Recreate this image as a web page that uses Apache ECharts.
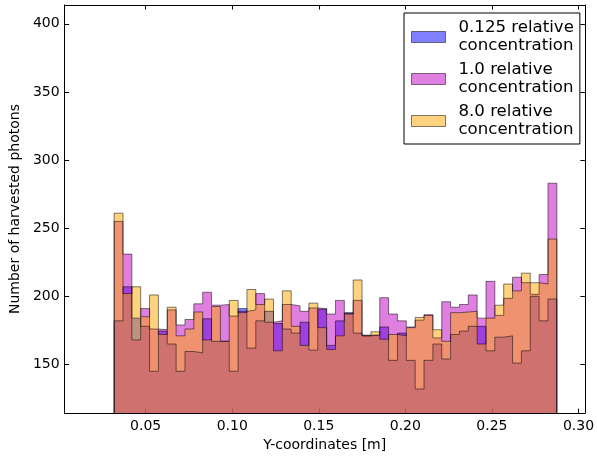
<!DOCTYPE html>
<html>
<head>
<meta charset="utf-8">
<script src="https://cdn.jsdelivr.net/npm/echarts@6/dist/echarts.min.js"></script>
<style>
  html, body { margin: 0; padding: 0; background: #fff; }
  #chart { width: 597px; height: 457px; }
</style>
</head>
<body>
<div id="chart"></div>
<script>
// Histogram bins along the Y coordinate (metres): 50 equal bins
const binStart = 0.0318;
const binWidth = 0.005114;

// Harvested photon counts per bin, one array per relative concentration
const counts0125 = [182, 207, 184, 178, 145, 174.5, 165, 145, 159.5, 158.5,
                    183.5, 167, 167, 145, 191, 162, 182, 189, 180, 176,
                    173, 181, 160.5, 190.5, 164, 182, 188, 173, 171, 171.5,
                    177.5, 153, 173, 153, 132, 153, 165, 154, 172, 174.5,
                    178, 178, 160, 170, 171, 151, 160, 200, 182, 198];
const counts10   = [255, 231, 168, 191, 176, 175.5, 190, 179, 183, 194.5,
                    203, 193.5, 194, 185.5, 189, 190, 202, 181, 182, 194,
                    193, 189, 191.5, 191, 187, 197, 187.5, 197, 171.5, 171.5,
                    199, 187, 182, 177.5, 182.5, 186.5, 169.5, 196, 192, 194,
                    201, 184, 211, 186, 198.5, 214, 210, 201.5, 216, 283];
const counts80   = [261, 202, 207, 185, 201, 172, 192, 171, 176, 188.5,
                    168, 192.5, 167, 197, 188, 205, 194, 198, 160, 204,
                    178, 164, 195, 177, 161, 171, 187, 212, 171, 174,
                    168.5, 172, 171, 177, 184.5, 186, 175.5, 167, 188, 188.5,
                    189, 165, 184, 193.5, 209, 204, 217, 210, 209, 242];

const seriesNames = ['0.125 relative concentration', '1.0 relative concentration', '8.0 relative concentration'];
const xTicks = [0.05, 0.10, 0.15, 0.20, 0.25, 0.30];
const yTicks = [150, 200, 250, 300, 350, 400];
const xRange = [0.0032, 0.3037];
const yRange = [114.3, 413.8];

const FONT = 'DejaVu Sans';
const EDGE = 'rgba(0,0,0,0.5)';

// Closed step outline of a filled histogram (drops to zero at both ends)
function stepOutline(counts) {
  const pts = [[binStart, 0]];
  counts.forEach((c, i) => pts.push([binStart + i * binWidth, c]));
  const end = binStart + counts.length * binWidth;
  pts.push([end, counts[counts.length - 1]]);
  pts.push([end, 0]);
  return pts;
}

function histSeries(name, counts, fill) {
  return {
    name: name,
    type: 'line',
    step: 'end',
    data: stepOutline(counts),
    symbol: 'none',
    showSymbol: false,
    clip: true,
    silent: true,
    animation: false,
    itemStyle: { color: fill },
    lineStyle: { color: EDGE, width: 1 },
    areaStyle: { color: fill, opacity: 1, origin: 'start' },
    emphasis: { disabled: true }
  };
}

function axisCommon(extra) {
  return Object.assign({
    type: 'value',
    splitLine: { show: false },
    axisLine: { show: true, onZero: false, lineStyle: { color: '#000', width: 1 } }
  }, extra);
}

const chart = echarts.init(document.getElementById('chart'), null, { renderer: 'canvas' });

chart.setOption({
  backgroundColor: '#fff',
  animation: false,
  grid: { left: 60, right: 8, top: 5, bottom: 41, containLabel: false },
  xAxis: [
    axisCommon({
      position: 'bottom', min: xRange[0], max: xRange[1],
      name: 'Y-coordinates [m]', nameLocation: 'middle', nameGap: 24,
      nameTextStyle: { fontFamily: FONT, fontSize: 14, color: '#000' },
      axisTick: { show: true, inside: true, length: 4.5, customValues: xTicks, lineStyle: { color: '#000' } },
      axisLabel: { show: true, customValues: xTicks, margin: 6, fontFamily: FONT, fontSize: 14, color: '#000',
                   formatter: v => v.toFixed(2) }
    }),
    axisCommon({
      position: 'top', min: xRange[0], max: xRange[1],
      axisTick: { show: true, inside: true, length: 4.5, customValues: xTicks, lineStyle: { color: '#000' } },
      axisLabel: { show: false }
    })
  ],
  yAxis: [
    axisCommon({
      position: 'left', min: yRange[0], max: yRange[1],
      name: 'Number of harvested photons', nameLocation: 'middle', nameGap: 35,
      nameTextStyle: { fontFamily: FONT, fontSize: 14, color: '#000' },
      axisTick: { show: true, inside: true, length: 4.5, customValues: yTicks, lineStyle: { color: '#000' } },
      axisLabel: { show: true, customValues: yTicks, margin: 5, fontFamily: FONT, fontSize: 14, color: '#000' }
    }),
    axisCommon({
      position: 'right', min: yRange[0], max: yRange[1],
      axisTick: { show: true, inside: true, length: 4.5, customValues: yTicks, lineStyle: { color: '#000' } },
      axisLabel: { show: false }
    })
  ],
  legend: {
    orient: 'vertical',
    left: 404, top: 13,
    selectedMode: false,
    backgroundColor: '#fff',
    borderColor: '#000', borderWidth: 1, borderRadius: 0,
    padding: [6, 6, 5, 7],
    itemGap: 6,
    itemWidth: 34, itemHeight: 11,
    icon: 'rect',
    formatter: n => n.replace('relative ', 'relative\n'),
    textStyle: { fontFamily: FONT, fontSize: 16.6, lineHeight: 18, color: '#000', padding: [0, 0, 0, 8] },
    data: [
      { name: seriesNames[0], itemStyle: { color: 'rgb(127,127,255)', borderColor: EDGE, borderWidth: 1 } },
      { name: seriesNames[1], itemStyle: { color: 'rgb(223,127,223)', borderColor: EDGE, borderWidth: 1 } },
      { name: seriesNames[2], itemStyle: { color: 'rgb(255,210,127)', borderColor: EDGE, borderWidth: 1 } }
    ]
  },
  series: [
    histSeries(seriesNames[0], counts0125, 'rgba(0,0,255,0.5)'),
    histSeries(seriesNames[1], counts10, 'rgba(191,0,191,0.5)'),
    histSeries(seriesNames[2], counts80, 'rgba(255,165,0,0.5)')
  ]
});
</script>
</body>
</html>
